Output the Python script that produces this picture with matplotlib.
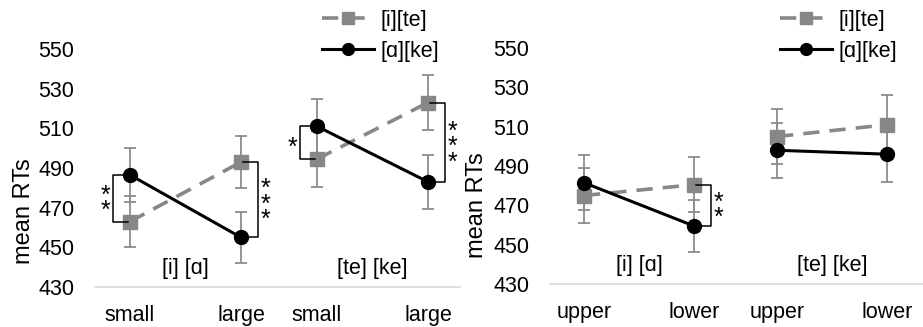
import numpy as np
import matplotlib.pyplot as plt

plt.rcParams["font.family"] = ["Liberation Sans", "DejaVu Sans"]

# data
left_cats = ["small", "large", "small", "large"]
right_cats = ["upper", "lower", "upper", "lower"]
groups = ["[i] [ɑ]", "[te] [ke]"]
series_names = ["[i][te]", "[ɑ][ke]"]

left_ite = [463, 493, 494.5, 523]
left_ite_err = [13, 13, 14, 14]
left_ake = [486.5, 455, 511, 483]
left_ake_err = [13.5, 13, 14, 13.5]

right_ite = [475, 480.5, 505, 511]
right_ite_err = [14, 14, 14, 15]
right_ake = [481.5, 459.5, 498, 496]
right_ake_err = [14, 13, 14, 14]

# (point index, stars, side)
left_sig = [(0, "**", "left"), (1, "***", "right"), (2, "*", "left"), (3, "***", "right")]
right_sig = [(1, "**", "right")]

yticks = [430, 450, 470, 490, 510, 530, 550]

GRAY = "#878787"
ERR = "#8c8c8c"
AXIS = "#d9d9d9"
W, H = 923, 327


def draw_panel(ax, cats, ite, ite_err, ake, ake_err, sig, gap, xlim, leg_xy):
    x = np.array([0, 1, 1 + gap, 2 + gap])
    for g in range(2):
        idx = [2 * g, 2 * g + 1]
        ax.errorbar(x[idx], np.array(ite)[idx], yerr=np.array(ite_err)[idx],
                    fmt="none", ecolor=ERR, elinewidth=1.3, capsize=4.5, capthick=1.3, zorder=1)
        ax.errorbar(x[idx], np.array(ake)[idx], yerr=np.array(ake_err)[idx],
                    fmt="none", ecolor=ERR, elinewidth=1.3, capsize=4.5, capthick=1.3, zorder=1)
        ax.plot(x[idx], np.array(ite)[idx], color=GRAY, lw=2.6, ls=(0, (4.5, 2.8)),
                marker="s", ms=10.5, mec=GRAY, mfc=GRAY, zorder=3,
                label=series_names[0] if g == 0 else None)
        ax.plot(x[idx], np.array(ake)[idx], color="black", lw=2.2,
                marker="o", ms=10, zorder=4,
                label=series_names[1] if g == 0 else None)
        ax.text((x[idx[0]] + x[idx[1]]) / 2, 439.5, groups[g], ha="center", va="center", fontsize=15.5)

    # significance brackets
    for i, stars, side in sig:
        y0, y1 = ite[i], ake[i]
        s = -1 if side == "left" else 1
        bx = x[i] + s * 0.15
        tx = x[i] + s * 0.02
        ax.plot([tx, bx, bx, tx], [y0, y0, y1, y1], color="black", lw=1.1, zorder=5)
        ax.annotate("\n".join(stars), (bx + s * 0.07, (y0 + y1) / 2), xytext=(0, -5),
                    textcoords="offset pixels", ha="center", va="center",
                    fontsize=18, linespacing=0.55)

    ax.set_xlim(*xlim)
    ax.set_ylim(430, 550)
    ax.set_yticks(yticks)
    ax.set_xticks(x)
    ax.set_xticklabels(cats)
    ax.tick_params(axis="y", length=0, pad=15, labelsize=15.5)
    ax.tick_params(axis="x", length=0, pad=13, labelsize=15.5)
    for sp in ["top", "right", "left"]:
        ax.spines[sp].set_visible(False)
    ax.spines["bottom"].set_color(AXIS)
    ax.spines["bottom"].set_linewidth(1.2)
    ax.set_ylabel("mean RTs", fontsize=17)
    ax.patch.set_alpha(0)
    ax.legend(loc="upper left", bbox_to_anchor=leg_xy, bbox_transform=ax.figure.transFigure,
              frameon=False, fontsize=15.5, handlelength=2.4, handletextpad=0.3,
              labelspacing=0.45, markerscale=0.85, borderaxespad=0, borderpad=0)


fig = plt.figure(figsize=(9.23, 3.27), dpi=100)

axl = fig.add_axes([95 / W, 1 - 287 / H, (460 - 95) / W, (287 - 49) / H])
draw_panel(axl, left_cats, left_ite, left_ite_err, left_ake, left_ake_err, left_sig,
           0.685, ((95 - 130) / 111, (460 - 130) / 111), (322 / W, 1 - 10 / H))
axl.yaxis.set_label_coords(-0.165, 0.32)

axr = fig.add_axes([550 / W, 1 - 284 / H, (923 - 550) / W, (284 - 48) / H])
draw_panel(axr, right_cats, right_ite, right_ite_err, right_ake, right_ake_err, right_sig,
           0.755, ((550 - 584) / 110, (923 - 584) / 110), (780 / W, 1 - 10 / H))
axr.yaxis.set_label_coords(-0.165, 0.335)

fig.savefig("out.png", dpi=100)
